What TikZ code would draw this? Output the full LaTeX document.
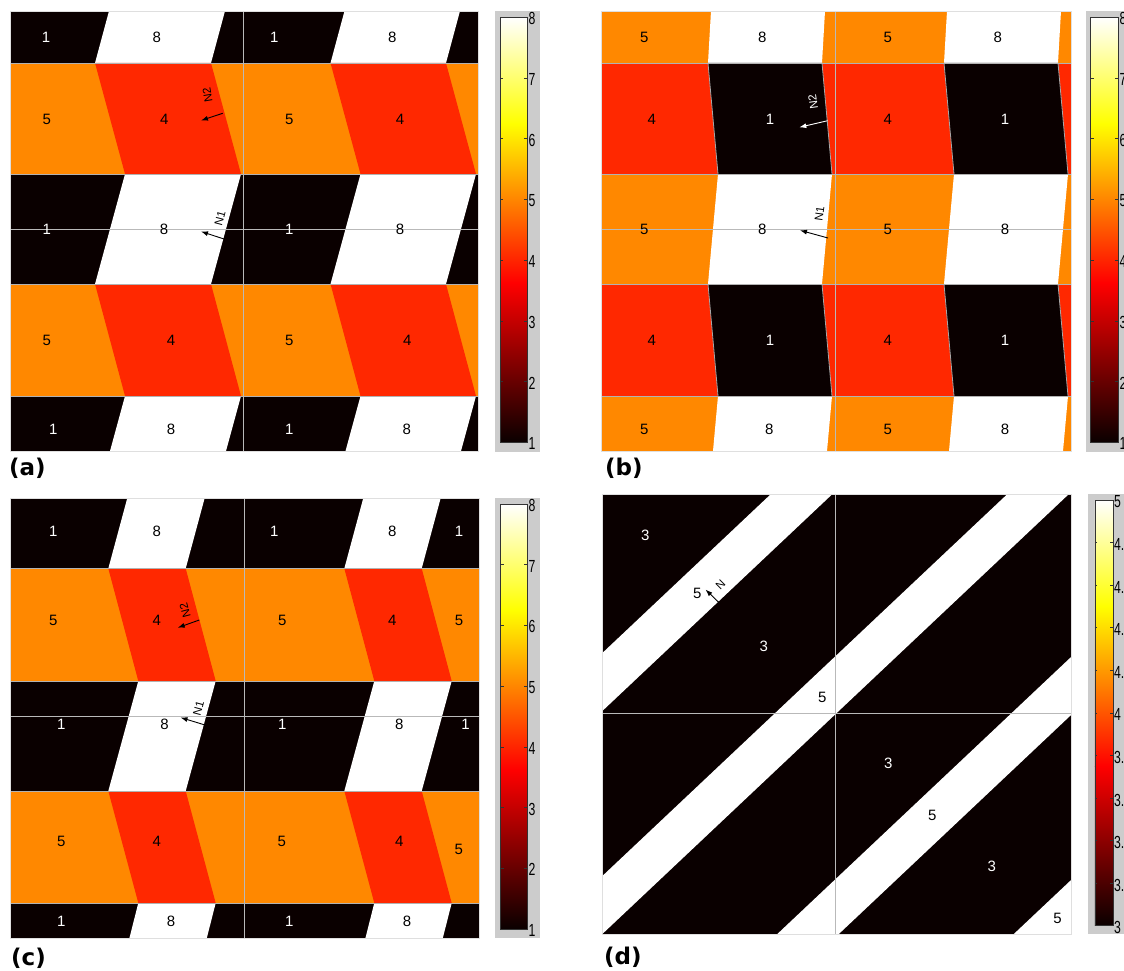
\documentclass[tikz,border=0pt]{standalone}
\usepackage{fontspec}
\setmainfont{Liberation Sans}
\newfontfamily\panelfont{DejaVu Sans}
\usetikzlibrary{arrows.meta}
\definecolor{hk}{RGB}{10,0,0}
\definecolor{hr}{RGB}{255,40,0}
\definecolor{ho}{RGB}{255,136,0}
\definecolor{cbg}{RGB}{204,204,204}
\definecolor{gridc}{RGB}{185,185,185}
\begin{document}
\begin{tikzpicture}[x=1pt,y=-1pt,
  lbl/.style={inner sep=0pt,font=\fontsize{15}{15}\selectfont},
  cbl/.style={inner sep=0pt,anchor=west,font=\fontsize{17.5}{17.5}\selectfont,xscale=0.7},
  nlab/.style={inner sep=0pt,font=\fontsize{11.5}{11.5}\selectfont},
  narr/.style={-{Latex[length=7pt,width=5pt]},line width=0.9pt},
  rowline/.style={draw=gray!60,line width=0.7pt},
  gridl/.style={draw=gridc,line width=0.9pt},
  border/.style={draw=gray!25,line width=0.8pt},
  panel/.style={inner sep=0pt,anchor=west,font=\panelfont\bfseries\fontsize{23}{23}\selectfont},
  cbox/.style={fill=cbg},
  cedge/.style={draw=gray!40!black,line width=0.6pt}]
\useasboundingbox (0,0) rectangle (1124,971);
\fill[white] (0,0) rectangle (1124,971);

%% ================= panel (a) =================
\fill[hk] (10,11) rectangle (478,451);
\fill[ho] (10,63) rectangle (478,174);
\fill[ho] (10,284) rectangle (478,396);
\begin{scope}
\clip (10,11) rectangle (478,63) (10,174) rectangle (478,284) (10,396) rectangle (478,451);
\foreach \a/\b in {95/211,330.5/446}
  \fill[white] ({\a+14},11) -- (\a,63) -- ({\a+30},174) -- (\a,284) -- ({\a+30},396) -- ({\a+15},451)
   -- ({\b+15},451) -- ({\b+30},396) -- (\b,284) -- ({\b+30},174) -- (\b,63) -- ({\b+14},11) -- cycle;
\end{scope}
\begin{scope}
\clip (10,63) rectangle (478,174) (10,284) rectangle (478,396);
\foreach \a/\b in {95/211,330.5/446}
  \fill[hr] ({\a+14},11) -- (\a,63) -- ({\a+30},174) -- (\a,284) -- ({\a+30},396) -- ({\a+15},451)
   -- ({\b+15},451) -- ({\b+30},396) -- (\b,284) -- ({\b+30},174) -- (\b,63) -- ({\b+14},11) -- cycle;
\end{scope}
\foreach \y in {63,174,284,396} \draw[rowline] (10,\y) -- (478,\y);
\draw[gridl] (243,11) -- (243,451);
\draw[gridl] (10,229.5) -- (478,229.5);
\draw[border] (10,11) rectangle (478,451);
\foreach \x/\y/\t/\c [count=\i] in {46/37.7/1/white,156.7/37.7/8/black,274.3/37.7/1/white,392.3/37.7/8/black,
  46.7/119/5/black,164.3/119/4/black,289.3/119/5/black,400/119/4/black,
  46.7/229.3/1/white,164/229.3/8/black,289.3/229.3/1/white,400/229.3/8/black,
  46.7/340/5/black,171/340/4/black,289.3/340/5/black,407.3/340/4/black,
  53.3/429/1/white,171/429/8/black,289.3/429/1/white,406.7/429/8/black}
  \node[lbl,text=\c] (a\i) at (\x,\y) {\t};
\coordinate (aN2s) at (222.7,113.3); \coordinate (aN2e) at (201,120.5);
\draw[narr] (aN2s) -- (aN2e);
\node[nlab,rotate=100] (aN2) at (207.5,95) {N2};
\coordinate (aN1s) at (224,239); \coordinate (aN1e) at (201,231.5);
\draw[narr] (aN1s) -- (aN1e);
\node[nlab,rotate=75] (aN1) at (220,218) {N1};
% colorbar (a)
\fill[cbox] (495,11) rectangle (540,451.5);
\shade[bottom color=hk,top color=red] (500,282.9) rectangle (527.3,442.3);
\shade[bottom color=red,top color=yellow] (500,123.55) rectangle (527.3,282.9);
\shade[bottom color=yellow,top color=white] (500,17.3) rectangle (527.3,123.55);
\draw[cedge] (500,17.3) rectangle (527.3,442.3);
\foreach \v [evaluate=\v as \yy using {442.3-(\v-1)*60.714}] in {1,...,8} {
  \draw[cedge] (500,\yy) -- (503,\yy);
  \draw[cedge] (524.3,\yy) -- (527.3,\yy);
  \node[cbl] (acb\v) at (528.5,{\yy+1.5}) {\v};
}
\node[panel] (pa) at (9,468) {(a)};

%% ================= panel (b) =================
\fill[ho] (601,11) rectangle (1071,451);
\fill[hr] (601,63) rectangle (1071,174);
\fill[hr] (601,284) rectangle (1071,396);
\begin{scope}
\clip (601,11) rectangle (1071,63) (601,174) rectangle (1071,284) (601,396) rectangle (1071,451);
\foreach \a/\b in {708/822,944/1058}
  \fill[white] ({\a+3},11) -- (\a,63) -- ({\a+10},174) -- (\a,284) -- ({\a+10},396) -- ({\a+5},451)
   -- ({\b+5},451) -- ({\b+10},396) -- (\b,284) -- ({\b+10},174) -- (\b,63) -- ({\b+3},11) -- cycle;
\end{scope}
\begin{scope}
\clip (601,63) rectangle (1071,174) (601,284) rectangle (1071,396);
\foreach \a/\b in {708/822,944/1058}
  \filldraw[fill=hk,draw=gray!70,line width=0.8pt] ({\a+3},11) -- (\a,63) -- ({\a+10},174) -- (\a,284) -- ({\a+10},396) -- ({\a+5},451)
   -- ({\b+5},451) -- ({\b+10},396) -- (\b,284) -- ({\b+10},174) -- (\b,63) -- ({\b+3},11) -- cycle;
\end{scope}
\foreach \y in {63,174,284,396} \draw[rowline] (601,\y) -- (1071,\y);
\draw[gridl] (835,11) -- (835,451);
\draw[gridl] (601,229.5) -- (1071,229.5);
\draw[border] (601,11) rectangle (1071,451);
\foreach \x/\y/\t/\c [count=\i] in {644.3/37.7/5/black,762.3/37.7/8/black,887.7/37.7/5/black,997.7/37.7/8/black,
  651.7/119/4/black,770/119/1/white,887.7/119/4/black,1005/119/1/white,
  644.3/229.3/5/black,762.3/229.3/8/black,887.7/229.3/5/black,1005/229.3/8/black,
  651.7/340/4/black,770/340/1/white,887.7/340/4/black,1005/340/1/white,
  644.3/429/5/black,769.3/429/8/black,887.7/429/5/black,1005/429/8/black}
  \node[lbl,text=\c] (b\i) at (\x,\y) {\t};
\coordinate (bN2s) at (827.7,120.7); \coordinate (bN2e) at (799.3,127.3);
\draw[narr,white] (bN2s) -- (bN2e);
\node[nlab,rotate=98,text=white] (bN2) at (813,102) {N2};
\coordinate (bN1s) at (828,238); \coordinate (bN1e) at (800,230.3);
\draw[narr] (bN1s) -- (bN1e);
\node[nlab,rotate=82] (bN1) at (819.5,213.5) {N1};
% colorbar (b)
\fill[cbox] (1086,11) rectangle (1130,451.5);
\shade[bottom color=hk,top color=red] (1090.7,282.9) rectangle (1118.3,442.3);
\shade[bottom color=red,top color=yellow] (1090.7,123.55) rectangle (1118.3,282.9);
\shade[bottom color=yellow,top color=white] (1090.7,17.3) rectangle (1118.3,123.55);
\draw[cedge] (1090.7,17.3) rectangle (1118.3,442.3);
\foreach \v [evaluate=\v as \yy using {442.3-(\v-1)*60.714}] in {1,...,8} {
  \draw[cedge] (1090.7,\yy) -- (1093.7,\yy);
  \draw[cedge] (1115.3,\yy) -- (1118.3,\yy);
  \node[cbl] (bcb\v) at (1119.5,{\yy+1.5}) {\v};
}
\node[panel] (pb) at (605,468) {(b)};

%% ================= panel (c) =================
\fill[hk] (10,498) rectangle (479.3,938.5);
\fill[ho] (10,568.5) rectangle (479.3,681);
\fill[ho] (10,791) rectangle (479.3,903);
\begin{scope}
\clip (10,498) rectangle (479.3,568.5) (10,681) rectangle (479.3,791) (10,903) rectangle (479.3,938.5);
\foreach \a/\b in {108.3/185.7,344.3/421.7}
  \fill[white] ({\a+19},498) -- (\a,568.5) -- ({\a+30},681) -- (\a,791) -- ({\a+30},903) -- ({\a+21},938.5)
   -- ({\b+21},938.5) -- ({\b+30},903) -- (\b,791) -- ({\b+30},681) -- (\b,568.5) -- ({\b+19},498) -- cycle;
\end{scope}
\begin{scope}
\clip (10,568.5) rectangle (479.3,681) (10,791) rectangle (479.3,903);
\foreach \a/\b in {108.3/185.7,344.3/421.7}
  \fill[hr] ({\a+19},498) -- (\a,568.5) -- ({\a+30},681) -- (\a,791) -- ({\a+30},903) -- ({\a+21},938.5)
   -- ({\b+21},938.5) -- ({\b+30},903) -- (\b,791) -- ({\b+30},681) -- (\b,568.5) -- ({\b+19},498) -- cycle;
\end{scope}
\foreach \y in {568.5,681,791,903} \draw[rowline] (10,\y) -- (479.3,\y);
\draw[gridl] (244.3,498) -- (244.3,938.5);
\draw[gridl] (10,716) -- (479.3,716);
\draw[border] (10,498) rectangle (479.3,938.5);
\foreach \x/\y/\t/\c [count=\i] in {53.3/531.7/1/white,156.7/531.7/8/black,274.3/531.7/1/white,392.3/531.7/8/black,459/531.7/1/white,
  53.3/620/5/black,156.7/620/4/black,282.3/620/5/black,392.3/620/4/black,459/620/5/black,
  61.3/724/1/white,164.6/724/8/black,282.4/724/1/white,399.4/724/8/black,465.6/724/1/white,
  61.3/841.7/5/black,156.7/841.7/4/black,281.7/841.7/5/black,399.4/841.7/4/black,458.7/849.3/5/black,
  61.3/921.7/1/white,171.1/921.7/8/black,289.3/921.7/1/white,407/921.7/8/black}
  \node[lbl,text=\c] (c\i) at (\x,\y) {\t};
\coordinate (cN2s) at (199.3,620); \coordinate (cN2e) at (177.7,627.7);
\draw[narr] (cN2s) -- (cN2e);
\node[nlab,rotate=105] (cN2) at (185,610.5) {N2};
\coordinate (cN1s) at (205,725); \coordinate (cN1e) at (180.5,717.5);
\draw[narr] (cN1s) -- (cN1e);
\node[nlab,rotate=75] (cN1) at (198.5,708.5) {N1};
% colorbar (c)
\fill[cbox] (495,498.3) rectangle (540,938.3);
\shade[bottom color=hk,top color=red] (500.7,769.6) rectangle (527.3,929);
\shade[bottom color=red,top color=yellow] (500.7,610.25) rectangle (527.3,769.6);
\shade[bottom color=yellow,top color=white] (500.7,504) rectangle (527.3,610.25);
\draw[cedge] (500.7,504) rectangle (527.3,929);
\foreach \v [evaluate=\v as \yy using {929-(\v-1)*60.714}] in {1,...,8} {
  \draw[cedge] (500.7,\yy) -- (503.7,\yy);
  \draw[cedge] (524.3,\yy) -- (527.3,\yy);
  \node[cbl] (ccb\v) at (528.5,{\yy+1.5}) {\v};
}
\node[panel] (pc) at (11,958) {(c)};

%% ================= panel (d) =================
\fill[hk] (601.9,494.3) rectangle (1071.3,934);
\begin{scope}
\clip (601.9,494.3) rectangle (1071.3,934);
\foreach \s in {1221,1444,1667,1890}
  \fill[white] (580,{\s-0.943*580}) -- (1100,{\s-0.943*1100}) -- (1100,{\s+58-0.943*1100}) -- (580,{\s+58-0.943*580}) -- cycle;
\end{scope}
\draw[gridl] (835.2,494.3) -- (835.2,934);
\draw[gridl] (601.9,713.3) -- (1071.3,713.3);
\draw[border] (601.9,494.3) rectangle (1071.3,934);
\foreach \x/\y/\t/\c [count=\i] in {645.2/535.7/3/white,697.3/593.3/5/black,763.7/646/3/white,822.3/697.3/5/black,
  888.4/763.3/3/white,932.3/815/5/black,991.9/866.7/3/white,1057.6/918.3/5/black}
  \node[lbl,text=\c] (d\i) at (\x,\y) {\t};
\coordinate (dNs) at (718.7,602.3); \coordinate (dNe) at (705.5,589.5);
\draw[narr] (dNs) -- (dNe);
\node[nlab,rotate=45] (dN) at (720.4,584.3) {N};
% colorbar (d)
\fill[cbox] (1088,494.3) rectangle (1130,934);
\shade[bottom color=hk,top color=red] (1094.8,766.1) rectangle (1112.8,925.7);
\shade[bottom color=red,top color=yellow] (1094.8,606.4) rectangle (1112.8,766.1);
\shade[bottom color=yellow,top color=white] (1094.8,500) rectangle (1112.8,606.4);
\draw[cedge] (1094.8,500) rectangle (1112.8,925.7);
\foreach \t [count=\i, evaluate=\i as \yy using {925.7-(\i-1)*42.57}] in {3,3.2,3.4,3.6,3.8,4,4.2,4.4,4.6,4.8,5} {
  \draw[cedge] (1094.8,\yy) -- (1097.3,\yy);
  \draw[cedge] (1110.3,\yy) -- (1112.8,\yy);
  \node[cbl] (dcb\i) at (1114,{\yy+2}) {\t};
}
\node[panel] (pd) at (604,957) {(d)};
\end{tikzpicture}
\end{document}
